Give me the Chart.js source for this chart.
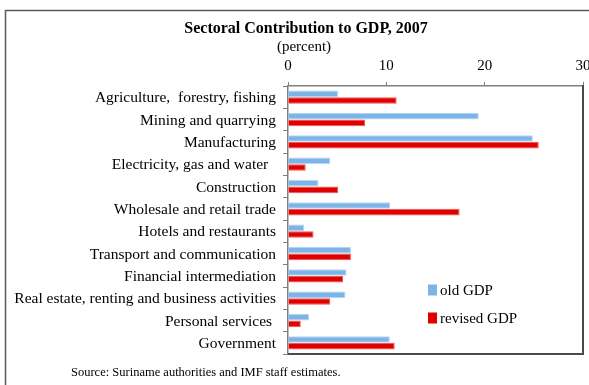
<!DOCTYPE html>
<html>
<head>
<meta charset="utf-8">
<script src="https://cdn.jsdelivr.net/npm/chart.js@4"></script>
<style>
  html, body { margin: 0; padding: 0; background: #fff; }
  #gdp { display: block; }
</style>
</head>
<body>
<canvas id="gdp" width="589" height="385"></canvas>
<script>
const sectors = [
  'Agriculture,  forestry, fishing',
  'Mining and quarrying',
  'Manufacturing',
  'Electricity, gas and water  ',
  'Construction',
  'Wholesale and retail trade',
  'Hotels and restaurants',
  'Transport and communication',
  'Financial intermediation',
  'Real estate, renting and business activities',
  'Personal services ',
  'Government'
];
const oldGdp = [5.1, 19.4, 24.9, 4.3, 3.1, 10.4, 1.65, 6.4, 5.95, 5.85, 2.15, 10.35];
const revisedGdp = [11.05, 7.85, 25.5, 1.8, 5.1, 17.45, 2.6, 6.4, 5.6, 4.3, 1.3, 10.85];
const xMax = 30;
const xStep = 10;

const serif = '"Liberation Serif", "Times New Roman", serif';

// frame, titles, source note, legend and the darker right/bottom edges
const decorations = {
  id: 'decorations',
  afterDraw(chart) {
    const { ctx, chartArea: a } = chart;
    ctx.save();

    ctx.strokeStyle = '#595959';
    ctx.lineWidth = 1.5;
    ctx.strokeRect(5.5, 10.5, 620, 420);

    ctx.strokeStyle = '#4a4a4a';
    ctx.lineWidth = 2;
    ctx.beginPath();
    ctx.moveTo(a.right, a.top - 1);
    ctx.lineTo(a.right, a.bottom);
    ctx.lineTo(a.left, a.bottom);
    ctx.stroke();

    ctx.fillStyle = '#000';
    ctx.textAlign = 'center';
    ctx.textBaseline = 'alphabetic';
    ctx.font = 'bold 16px ' + serif;
    ctx.fillText('Sectoral Contribution to GDP, 2007', 306, 33);
    ctx.font = '15px ' + serif;
    ctx.fillText('(percent)', 304, 51);

    ctx.textAlign = 'left';
    ctx.font = '12.5px ' + serif;
    ctx.fillText('Source: Suriname authorities and IMF staff estimates.', 71, 376);

    ctx.font = '15px ' + serif;
    ctx.textBaseline = 'middle';
    chart.data.datasets.forEach((ds, i) => {
      const y = 290 + i * 28;
      ctx.fillStyle = ds.backgroundColor;
      ctx.fillRect(428, y - 5.5, 9, 11);
      ctx.fillStyle = '#000';
      ctx.fillText(ds.label, 440, y + 1);
    });

    ctx.restore();
  }
};

new Chart(document.getElementById('gdp'), {
  type: 'bar',
  data: {
    labels: sectors,
    datasets: [
      {
        label: 'old GDP',
        data: oldGdp,
        backgroundColor: '#7db4e8',
        borderColor: '#b8d6f3',
        borderWidth: 1
      },
      {
        label: 'revised GDP',
        data: revisedGdp,
        backgroundColor: '#e00000',
        borderColor: '#ee5050',
        borderWidth: 1
      }
    ]
  },
  options: {
    indexAxis: 'y',
    responsive: false,
    animation: false,
    devicePixelRatio: 1,
    categoryPercentage: 0.6,
    barPercentage: 1,
    layout: { padding: { left: 0, top: 0, right: 6, bottom: 31 } },
    plugins: {
      legend: { display: false },
      title: { display: false },
      tooltip: { enabled: false }
    },
    scales: {
      x: {
        position: 'top',
        min: 0,
        max: xMax,
        afterFit: s => {
          s.height = 86;
          s.paddingLeft = 0;
          s.paddingRight = 0;
        },
        ticks: {
          stepSize: xStep,
          color: '#000',
          padding: 7,
          font: { family: serif, size: 15 }
        },
        grid: { drawOnChartArea: false, tickLength: 4, color: '#808080' },
        border: { color: '#808080', width: 1.5 }
      },
      y: {
        afterFit: s => {
          s.width = 288;
          s.paddingTop = 0;
          s.paddingBottom = 0;
        },
        ticks: {
          color: '#000',
          padding: 7,
          labelOffset: 1,
          font: { family: serif, size: 15.5 }
        },
        grid: { drawOnChartArea: false, tickLength: 5, color: '#808080', offset: true },
        border: { color: '#808080', width: 1.5 }
      }
    }
  },
  plugins: [decorations]
});
</script>
</body>
</html>
